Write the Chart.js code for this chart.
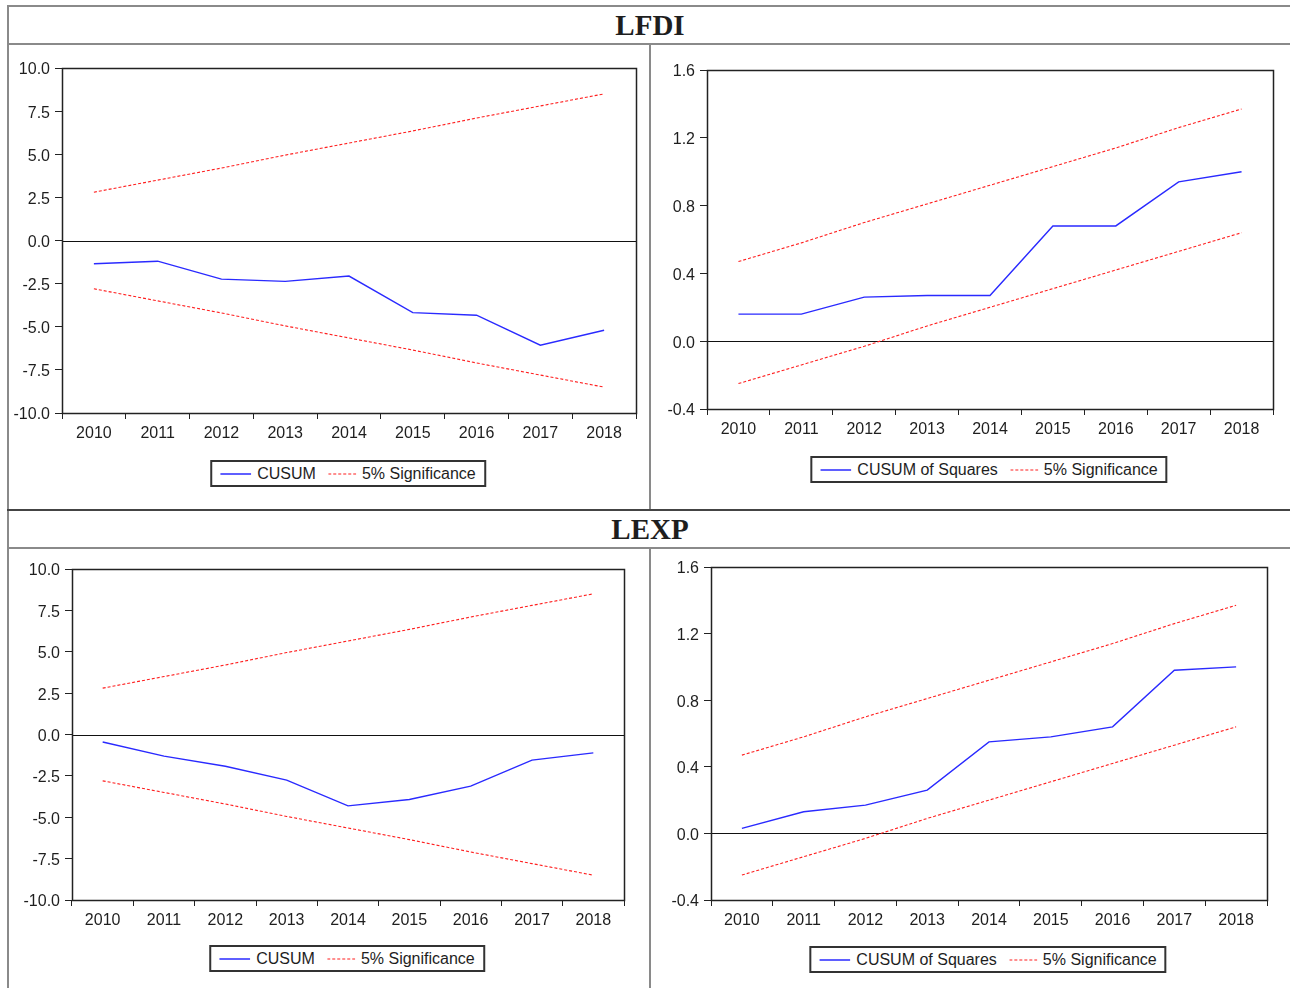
<!DOCTYPE html>
<html>
<head>
<meta charset="utf-8">
<script src="https://cdn.jsdelivr.net/npm/chart.js@4.4.1/dist/chart.umd.min.js"></script>
<style>
  body { margin: 0; background: #fff; }
  #page { position: relative; width: 1290px; height: 988px; overflow: hidden; font-family: 'Liberation Sans', Arial, sans-serif; }
  .ln { position: absolute; background: #8a8a8a; }
  .title { position: absolute; left: 0; width: 1300px; text-align: center; line-height: 29px;
           font: bold 29px 'Liberation Serif', 'Times New Roman', serif; color: #1e1e1e; }
  .legend { position: absolute; height: 23px; border: 2px solid #333; padding: 0 8px;
            display: flex; align-items: center; font-size: 16px; color: #1e1e1e;
            transform: translateX(-50%); white-space: nowrap; }
  .legend .item { display: flex; align-items: center; }
  .legend .item + .item { margin-left: 12px; }
  .legend svg { margin-right: 6px; }
</style>
</head>
<body>
<div id="page">
  <!-- table frame -->
  <div class="ln" style="left:7px;top:5px;width:1283px;height:2px"></div>
  <div class="ln" style="left:7px;top:5px;width:2px;height:983px"></div>
  <div class="ln" style="left:7px;top:43px;width:1283px;height:2px"></div>
  <div class="ln" style="left:649px;top:43px;width:2px;height:467px"></div>
  <div class="ln" style="left:7px;top:509px;width:1283px;height:2px;background:#444"></div>
  <div class="ln" style="left:7px;top:547px;width:1283px;height:2px"></div>
  <div class="ln" style="left:649px;top:547px;width:2px;height:441px"></div>
  <div class="title" style="top:9px">LFDI</div>
  <div class="title" style="top:513px">LEXP</div>
</div>
<script>
const years = ['2010', '2011', '2012', '2013', '2014', '2015', '2016', '2017', '2018'];

const cusumTicks = [-10, -7.5, -5, -2.5, 0, 2.5, 5, 7.5, 10];
const sqTicks = [-0.4, 0, 0.4, 0.8, 1.2, 1.6];

const lfdiCusum = [-1.35, -1.2, -2.24, -2.37, -2.06, -4.18, -4.33, -6.07, -5.2];
const lfdiCusumSq = [0.16, 0.16, 0.26, 0.27, 0.27, 0.68, 0.68, 0.94, 1.0];
const lexpCusum = [-0.45, -1.31, -1.92, -2.76, -4.31, -3.93, -3.12, -1.55, -1.11];
const lexpCusumSq = [0.03, 0.13, 0.17, 0.26, 0.55, 0.58, 0.64, 0.98, 1.0];

const cusumUpper = [2.8, 3.5, 4.2, 4.95, 5.65, 6.35, 7.1, 7.8, 8.5];
const cusumLower = [-2.8, -3.5, -4.2, -4.95, -5.65, -6.35, -7.1, -7.8, -8.5];
const sqUpper = [0.47, 0.58, 0.7, 0.81, 0.92, 1.03, 1.14, 1.26, 1.37];
const sqLower = [-0.25, -0.14, -0.03, 0.09, 0.2, 0.31, 0.42, 0.53, 0.64];

const blue = '#2a2aff';
const red = '#ff1f1f';
const ink = '#1e1e1e';

Chart.defaults.font.family = "'Liberation Sans', Arial, sans-serif";
Chart.defaults.font.size = 16;
Chart.defaults.color = ink;

// black frame round the plot and the zero line
const framePlugin = {
  id: 'frame',
  beforeDatasetsDraw(chart) {
    const { ctx, chartArea: a, scales } = chart;
    const y0 = Math.round(scales.y.getPixelForValue(0)) + 0.5;
    ctx.save();
    ctx.strokeStyle = '#111';
    ctx.lineWidth = 1.2;
    ctx.beginPath();
    ctx.moveTo(a.left, y0);
    ctx.lineTo(a.right, y0);
    ctx.stroke();
    ctx.restore();
  },
  afterDatasetsDraw(chart) {
    const { ctx, chartArea: a } = chart;
    ctx.save();
    ctx.strokeStyle = '#222';
    ctx.lineWidth = 1.5;
    ctx.strokeRect(Math.round(a.left) + 0.5, Math.round(a.top) + 0.5,
      Math.round(a.right - a.left), Math.round(a.bottom - a.top));
    ctx.restore();
  }
};

function dashSvg(color, width, dash, w) {
  return `<svg width="${w}" height="4"><line x1="0" y1="2" x2="${w}" y2="2" stroke="${color}"
    stroke-width="${width}" ${dash ? `stroke-dasharray="${dash.join(',')}"` : ''}/></svg>`;
}

function buildPanel(area, tickVals, mainLabel, main, upper, lower, legendTop) {
  const page = document.getElementById('page');
  const cv = document.createElement('canvas');
  const W = area.r - area.l + 62, H = area.b - area.t + 60;
  cv.width = W;
  cv.height = H;
  cv.style.cssText = `position:absolute;left:${area.l - 52}px;top:${area.t - 16}px;width:${W}px;height:${H}px`;
  page.appendChild(cv);

  const sig = { borderColor: red, borderWidth: 1.1, borderDash: [3, 2] };
  const datasets = [
    { label: mainLabel, data: main, borderColor: blue, borderWidth: 1.4 },
    { label: '5% Significance', data: upper, ...sig },
    { label: '5% Significance', data: lower, ...sig }
  ];

  new Chart(cv, {
    type: 'line',
    data: { labels: years, datasets },
    options: {
      responsive: false,
      animation: false,
      devicePixelRatio: 1,
      layout: { padding: { left: 2, top: 16, right: 10, bottom: 4 } },
      elements: { point: { radius: 0 }, line: { tension: 0, fill: false } },
      plugins: { legend: { display: false }, tooltip: { enabled: false } },
      scales: {
        x: {
          offset: true,
          grid: { offset: true, drawOnChartArea: false, drawTicks: true, tickLength: 6, color: '#222' },
          border: { display: false },
          ticks: { padding: 5, maxRotation: 0, autoSkip: false, color: ink },
          afterFit(s) { s.height = 40; }
        },
        y: {
          min: tickVals[0],
          max: tickVals[tickVals.length - 1],
          grid: { drawOnChartArea: false, drawTicks: true, tickLength: 7, color: '#222' },
          border: { display: false },
          ticks: { padding: 5, labelOffset: 2, color: ink, callback: v => v.toFixed(1) },
          afterBuildTicks(s) { s.ticks = tickVals.map(v => ({ value: v })); },
          afterFit(s) { s.width = 50; }
        }
      }
    },
    plugins: [framePlugin]
  });

  // boxed legend under the plot, one entry per distinct series
  const lg = document.createElement('div');
  lg.className = 'legend';
  lg.style.left = ((area.l + area.r) / 2 - 1) + 'px';
  lg.style.top = legendTop + 'px';
  datasets.slice(0, 2).forEach((d, i) => {
    const it = document.createElement('span');
    it.className = 'item';
    it.innerHTML = dashSvg(d.borderColor, d.borderWidth, d.borderDash, i === 0 ? 31 : 28) + d.label;
    lg.appendChild(it);
  });
  page.appendChild(lg);
}

buildPanel({ l: 62, t: 68, r: 636, b: 413 }, cusumTicks, 'CUSUM', lfdiCusum, cusumUpper, cusumLower, 460);
buildPanel({ l: 707, t: 70, r: 1273, b: 409 }, sqTicks, 'CUSUM of Squares', lfdiCusumSq, sqUpper, sqLower, 456);
buildPanel({ l: 72, t: 569, r: 624, b: 900 }, cusumTicks, 'CUSUM', lexpCusum, cusumUpper, cusumLower, 945);
buildPanel({ l: 711, t: 567, r: 1267, b: 900 }, sqTicks, 'CUSUM of Squares', lexpCusumSq, sqUpper, sqLower, 946);
</script>
</body>
</html>
